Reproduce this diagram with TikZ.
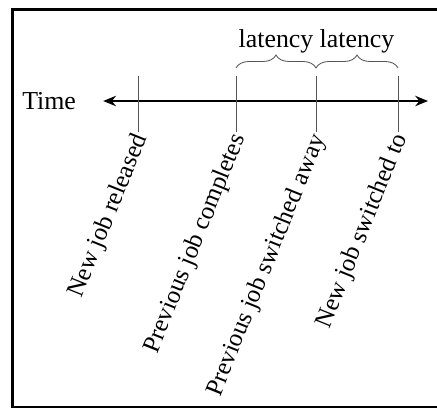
\documentclass[tikz,border=0pt]{standalone}
\usepackage{fontspec}
\setmainfont{Liberation Serif}
\usetikzlibrary{positioning,arrows.meta,decorations.pathreplacing}
\definecolor{tickgray}{HTML}{555555}

\tikzset{
  label/.style={font=\fontsize{18.4}{22}\selectfont},
  event/.style={font=\fontsize{17.8}{21}\selectfont,xshift=0.1cm,yshift=-0.05cm,rotate=68,anchor=east,inner sep=1pt},
  tick/.style={draw=tickgray,line width=0.7pt},
  span/.style={draw=tickgray,line width=0.6pt,decorate,decoration={brace,amplitude=0.325cm}},
  timeline/.style={line width=1.4pt,{Stealth[length=0.32cm,width=0.26cm]}-{Stealth[length=0.32cm,width=0.26cm]}}
}

\begin{document}
\begin{tikzpicture}
        \useasboundingbox (0,0) rectangle (10.925,10.175);
        \clip (0,0) rectangle (10.925,10.175);
        % frame (runs past the right edge)
        \draw[line width=0.075cm] (0.3125,0.0) rectangle (11.3,9.94);

        % time axis
        \node[label,anchor=west,inner sep=0pt] (time) at (0.55,7.65) {Time};
        \coordinate (past) at (2.58,7.65);
        \coordinate (future) at (10.7,7.65);
        \draw[timeline] (past) -- (future);

        % event marks
        \coordinate (rel top) at (3.45,8.275);
        \coordinate (rel bot) at (3.45,6.875);
        \coordinate (done top) at (5.9,8.275);
        \coordinate (done bot) at (5.9,6.875);
        \coordinate (away top) at (7.9,8.275);
        \coordinate (away bot) at (7.9,6.875);
        \coordinate (to top) at (9.95,8.275);
        \coordinate (to bot) at (9.95,6.875);
        \draw[tick] (rel top) -- (rel bot);
        \draw[tick] (done top) -- (done bot);
        \draw[tick] (away top) -- (away bot);
        \draw[tick] (to top) -- (to bot);

        \node[event] (released) at (rel bot) {New job released};
        \node[event] (completes) at (done bot) {Previous job completes};
        \node[event] (switchaway) at (away bot) {Previous job switched away};
        \node[event] (switchto) at (to bot) {New job switched to};

        % latency braces
        \draw[span] ([yshift=0.2cm]done top) -- ([yshift=0.2cm]away top)
          node[label,midway,above=0.36cm,inner sep=0pt] (lat1) {latency};
        \draw[span] ([yshift=0.2cm]away top) -- ([yshift=0.2cm]to top)
          node[label,midway,above=0.36cm,inner sep=0pt] (lat2) {latency};
      \end{tikzpicture}
\end{document}
